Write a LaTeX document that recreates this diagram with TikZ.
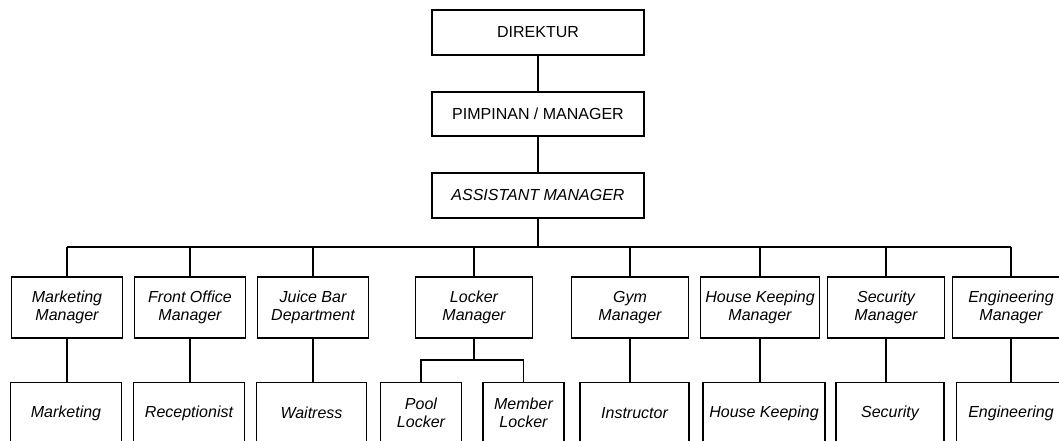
\documentclass[tikz,border=0pt]{standalone}
\usepackage{fontspec}
\setmainfont{Liberation Sans}
\usetikzlibrary{positioning}
\tikzset{
	every node/.style={font=\fontsize{16}{18.5}\selectfont}, % text size for all boxes
	box/.style={draw, line width=1.9pt, align=center, inner sep=2pt}, % plain framed box
	head/.style={box, minimum width=212.5pt, minimum height=44.5pt}, % the three top boxes
	unit/.style={box, minimum height=61pt, font=\fontsize{16}{18.5}\selectfont\itshape}, % managers and staff
	link/.style={line width=1.9pt}, % connecting lines
}

\begin{document}
\begin{tikzpicture}[x=1pt, y=-1pt]
	\useasboundingbox (0,0) rectangle (1059,441);
	\clip (0,0) rectangle (1059,441);
	% top of the chart
	\node[head] (dir) at (538,32.5) {DIREKTUR};
	\node[head, below=35pt of dir] (pim) {PIMPINAN / MANAGER};
	\node[head, below=35pt of pim] (asst) {\itshape ASSISTANT MANAGER};
	% managers
	\node[unit, minimum width=111pt] (mkm) at (67,307.5) {Marketing\\Manager};
	\node[unit, minimum width=111pt] (fom) at (190,307.5) {Front Office\\Manager};
	\node[unit, minimum width=111pt] (jbd) at (313,307.5) {Juice Bar\\Department};
	\node[unit, minimum width=117pt] (lkm) at (474,307.5) {Locker\\Manager};
	\node[unit, minimum width=117pt] (gym) at (630,307.5) {Gym\\Manager};
	\node[unit, minimum width=119pt] (hkm) at (760,307.5) {House Keeping\\Manager};
	\node[unit, minimum width=117pt] (scm) at (886,307.5) {Security\\Manager};
	\node[unit, minimum width=117pt] (egm) at (1011,307.5) {Engineering\\Manager};
	% staff
	\node[unit, minimum width=111pt] (mk) at (66,413) {Marketing};
	\node[unit, minimum width=111pt] (rc) at (189,413) {Receptionist};
	\node[unit, minimum width=110pt] (wt) at (311.5,413) {Waitress};
	\node[unit, minimum width=81pt] (pl) at (421,413) {Pool\\Locker};
	\node[unit, minimum width=81pt] (ml) at (523.5,413) {Member\\Locker};
	\node[unit, minimum width=109pt] (ins) at (634.5,413) {Instructor};
	\node[unit, minimum width=122pt] (hk) at (764,413) {House Keeping};
	\node[unit, minimum width=108pt] (sc) at (890,413) {Security};
	\node[unit, minimum width=109pt] (eg) at (1011,413) {Engineering};
	\coordinate (bus) at (0,247);
	\coordinate (lbus) at (0,360);
	\draw[link] (dir) -- (pim);
	\draw[link] (pim) -- (asst);
	\draw[link] (asst.south) -- (asst.south |- bus);
	\draw[link] (mkm.north |- bus) -- (egm.north |- bus);
	\foreach \m in {mkm,fom,jbd,lkm,gym,hkm,scm,egm}
		\draw[link] (\m.north) -- (\m.north |- bus);
	\foreach \m/\s in {mkm/mk,fom/rc,jbd/wt,gym/ins,hkm/hk,scm/sc,egm/eg}
		\draw[link] (\m.south) -- (\m.south |- \s.north);
	\draw[link] (lkm.south) -- (lkm.south |- lbus);
	\draw[link] (pl.north) -- (pl.north |- lbus) -| (ml.north);
\end{tikzpicture}
\end{document}
